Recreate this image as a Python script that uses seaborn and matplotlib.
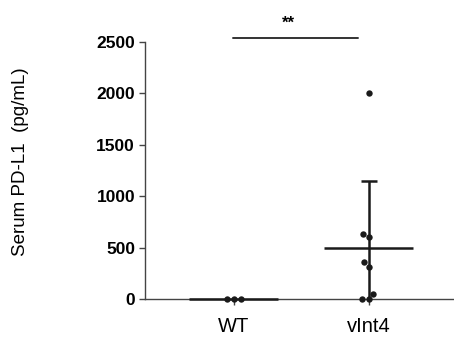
import numpy as np
import pandas as pd
import matplotlib
matplotlib.use("Agg")
import matplotlib.pyplot as plt
import seaborn as sns

# ==========================
# DATA
# ==========================

groups = ["WT", "vInt4"]

wt_values = [0, 0, 0]

vint4_values = [2000, 632, 600, 357, 314, 46, 0, 0]

y_ticks = [0, 500, 1000, 1500, 2000, 2500]

sig_label = "**"

data = pd.DataFrame({
    "Group": ["WT"] * len(wt_values) + ["vInt4"] * len(vint4_values),
    "Value": wt_values + vint4_values,
})

# ==========================
# FIGURE
# ==========================

sns.set_style("white")
plt.rcParams["font.family"] = ["Liberation Sans", "DejaVu Sans"]
plt.rcParams["text.color"] = "black"
plt.rcParams["axes.labelcolor"] = "black"
plt.rcParams["xtick.labelcolor"] = "black"
plt.rcParams["ytick.labelcolor"] = "black"

fig = plt.figure(figsize=(4.54, 3.47), dpi=100)
ax = fig.add_axes([0.319, 0.138, 0.681, 0.741])

sns.swarmplot(
    data=data,
    x="Group",
    y="Value",
    order=groups,
    color="#1a1a1a",
    size=4.6,
    zorder=4,
    ax=ax,
)

for c in ax.collections:
    c.set_clip_on(False)

# mean line + SD error bar
for i, vals in enumerate([wt_values, vint4_values]):
    m = np.mean(vals)
    sd = np.std(vals, ddof=1)
    ax.hlines(m, i - 0.33, i + 0.33, color="#1a1a1a", lw=1.8, zorder=3,
              clip_on=False)
    if sd > 0:
        ax.errorbar(i, m, yerr=sd, color="#1a1a1a", lw=1.8, capsize=6,
                    capthick=1.8, zorder=3)

ax.set_xlim(-0.66, 1.63)
ax.set_ylim(0, 2500)
ax.set_yticks(y_ticks)
ax.set_yticklabels([str(t) for t in y_ticks], fontweight="bold", fontsize=12.5)
ax.set_xticks(range(len(groups)))
ax.set_xticklabels(groups, fontsize=14.5)

ax.set_xlabel("")
ax.set_ylabel("Serum PD-L1  (pg/mL)", fontsize=13.5)
ax.yaxis.set_label_coords(-0.375, 0.535)

for s in ["top", "right"]:
    ax.spines[s].set_visible(False)
for s in ["left", "bottom"]:
    ax.spines[s].set_color("#444444")
    ax.spines[s].set_linewidth(1.0)

ax.tick_params(axis="both", direction="out", length=4, width=1.0,
               color="#444444", pad=3, bottom=True, left=True)
ax.tick_params(axis="x", pad=9)

# significance bar
ax.plot([-0.01, 0.92], [2540, 2540], color="#333333", lw=1.4, clip_on=False)
ax.text(0.4, 2610, sig_label, ha="center", va="bottom", fontsize=12,
        fontweight="bold")

fig.savefig("out.png", dpi=100)
plt.close(fig)
